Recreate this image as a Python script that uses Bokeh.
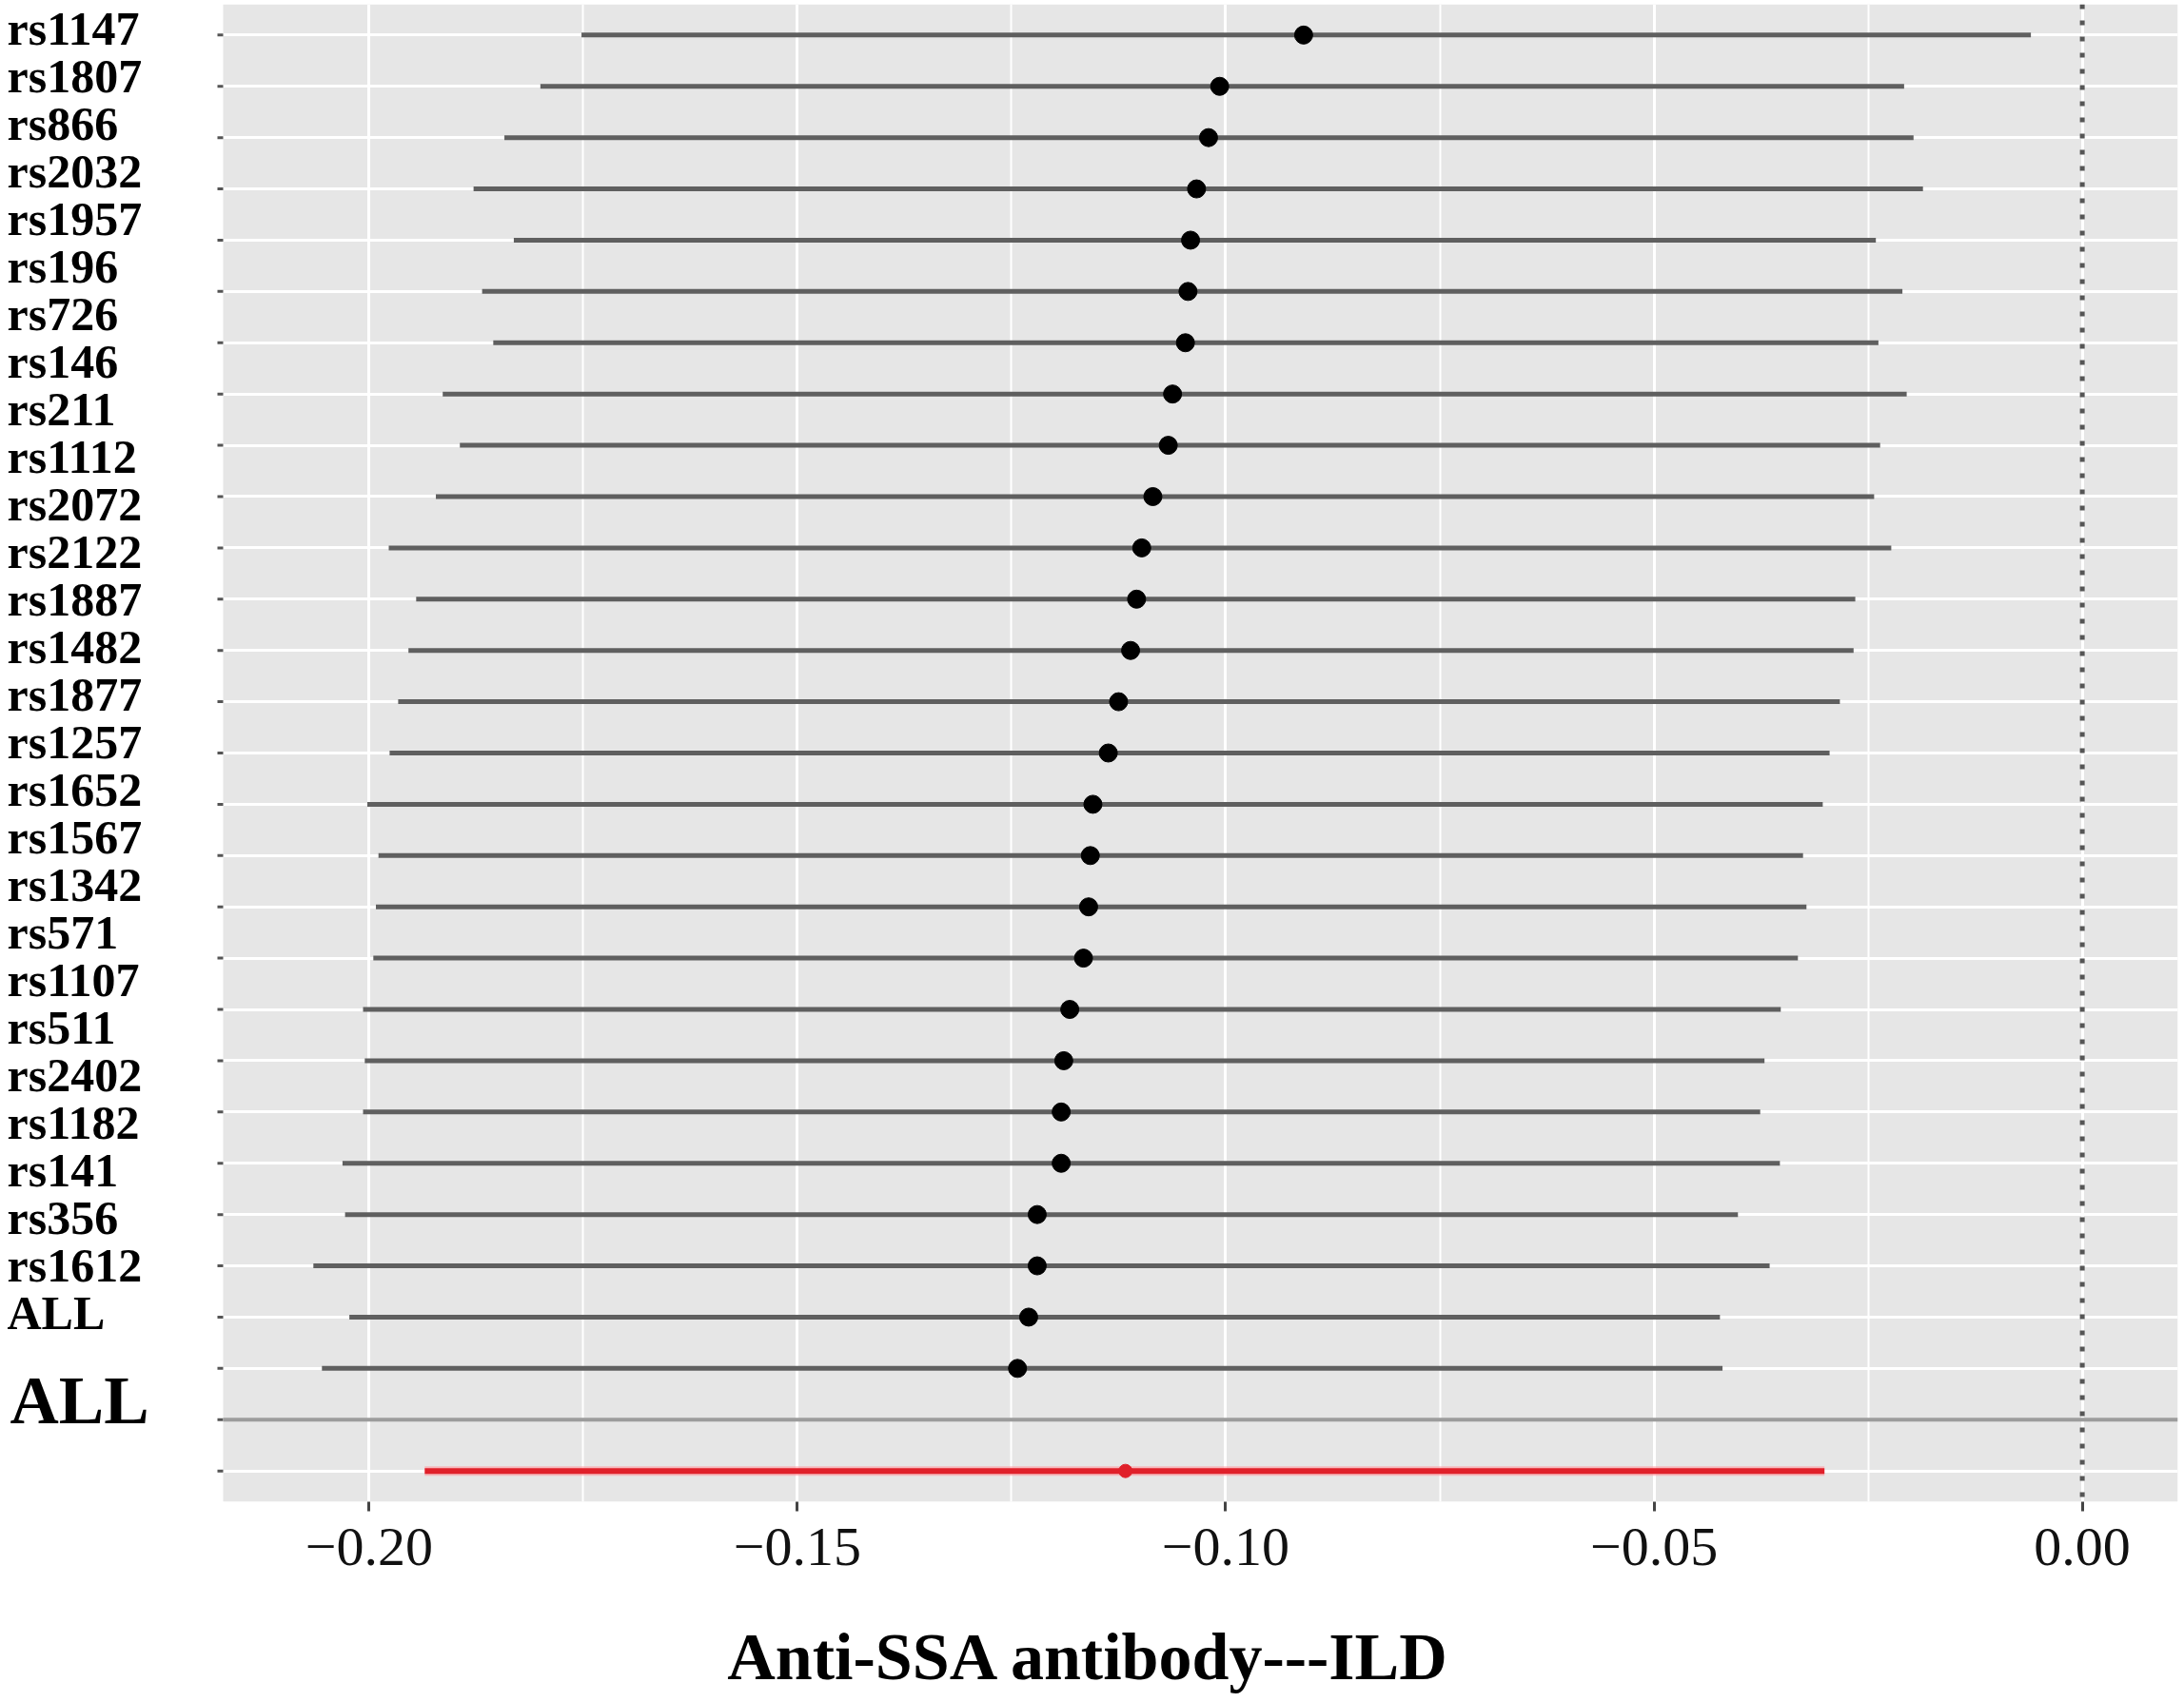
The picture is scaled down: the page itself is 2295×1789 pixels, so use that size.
import numpy as np
from bokeh.plotting import figure
from bokeh.models import (Range1d, FixedTicker, CustomJSTickFormatter, Span,
                          ColumnDataSource)
from bokeh.core.properties import value
from bokeh.embed import file_html
from bokeh.resources import INLINE

# ---------------- data ----------------
snp_labels = ["rs1147", "rs1807", "rs866", "rs2032", "rs1957", "rs196", "rs726",
              "rs146", "rs211", "rs1112", "rs2072", "rs2122", "rs1887", "rs1482",
              "rs1877", "rs1257", "rs1652", "rs1567", "rs1342", "rs571", "rs1107",
              "rs511", "rs2402", "rs1182", "rs141", "rs356", "rs1612", "ALL"]
est = [-0.0909, -0.1007, -0.1020, -0.1034, -0.1041, -0.1044, -0.1047, -0.1062,
       -0.1067, -0.1085, -0.1098, -0.1104, -0.1111, -0.1125, -0.1137, -0.1155,
       -0.1158, -0.1160, -0.1166, -0.1182, -0.1189, -0.1192, -0.1192, -0.1220,
       -0.1220, -0.1230, -0.1243]
lower = [-0.1752, -0.1800, -0.1842, -0.1878, -0.1831, -0.1868, -0.1855, -0.1914,
         -0.1894, -0.1922, -0.1977, -0.1945, -0.1954, -0.1966, -0.1976, -0.2002,
         -0.1989, -0.1992, -0.1995, -0.2007, -0.2005, -0.2007, -0.2031, -0.2028,
         -0.2065, -0.2023, -0.2055]
upper = [-0.0060, -0.0208, -0.0197, -0.0186, -0.0241, -0.0210, -0.0238, -0.0205,
         -0.0236, -0.0243, -0.0223, -0.0265, -0.0267, -0.0283, -0.0295, -0.0303,
         -0.0326, -0.0322, -0.0332, -0.0352, -0.0371, -0.0376, -0.0353, -0.0402,
         -0.0365, -0.0423, -0.0420]
pooled_est = [-0.1117]
pooled_lower = [-0.1935]
pooled_upper = [-0.0301]
x_ticks = [-0.20, -0.15, -0.10, -0.05, 0.00]
x_minor = [-0.175, -0.125, -0.075, -0.025]
x_title = "Anti-SSA antibody---ILD"
big_label = ["ALL"]

# ---------------- layout ----------------
W, H = 2295, 1789
FRAME_W = 2288          # frame spans canvas x 0..2288
PANEL_LEFT_PX = 234     # grey panel starts here inside the frame

n_rows = len(est) + 2                      # SNP rows + separator row + pooled row
row_y = [n_rows - i for i in range(len(est))]
sep_row = 2
pooled_row = [1]
all_rows = list(range(1, n_rows + 1))

lo = min(lower + pooled_lower + [0.0])
hi = max(upper + pooled_upper + [0.0])
panel_lo, panel_hi = lo - 0.051 * (hi - lo), hi + 0.054 * (hi - lo)
x_start = panel_lo - PANEL_LEFT_PX / (FRAME_W - PANEL_LEFT_PX) * (panel_hi - panel_lo)

p = figure(width=W, height=H, output_backend="svg", toolbar_location=None,
           x_range=Range1d(x_start, panel_hi),
           y_range=Range1d(0.4, n_rows + 0.6),
           min_border_left=0, min_border_right=W - FRAME_W, min_border_top=4,
           min_border_bottom=211,
           background_fill_color="white", border_fill_color="white",
           outline_line_color=None)

n_lab = len(snp_labels)
p.extra_y_ranges = {"lab": Range1d(-2.98, n_lab + 0.5)}

# grey panel
p.quad(left=[panel_lo], right=[panel_hi], bottom=[0.4], top=[n_rows + 0.6],
       fill_color="#E6E6E6", line_color=None, level="image")

# grids
p.xgrid.ticker = FixedTicker(ticks=x_ticks, minor_ticks=x_minor)
p.xgrid.grid_line_color = "white"
p.xgrid.grid_line_width = 3
p.xgrid.minor_grid_line_color = "white"
p.xgrid.minor_grid_line_width = 2
p.ygrid.ticker = FixedTicker(ticks=all_rows)
p.ygrid.grid_line_color = "white"
p.ygrid.grid_line_width = 3
p.ygrid.bounds = (panel_lo, panel_hi)

# x axis
xa = p.xaxis[0]
xa.ticker = FixedTicker(ticks=x_ticks)
xa.formatter = CustomJSTickFormatter(
    code="return (tick < -1e-9 ? '\u2212' : '') + Math.abs(tick).toFixed(2);")
xa.axis_line_color = None
xa.major_tick_line_color = "#444444"
xa.major_tick_line_width = 3
xa.major_tick_out = 10
xa.major_tick_in = 0
xa.minor_tick_line_color = None
xa.major_label_text_font = "Liberation Serif"
xa.major_label_text_font_size = "58px"
xa.major_label_text_color = "#111111"
xa.major_label_standoff = 18
xa.axis_label = x_title
xa.axis_label_text_font = "Liberation Serif"
xa.axis_label_text_font_style = "bold"
xa.axis_label_text_font_size = "70px"
xa.axis_label_text_color = "black"
xa.axis_label_standoff = 55

p.yaxis.visible = False

# y ticks at the panel's left edge
p.ray(x=[panel_lo] * n_rows, y=all_rows, length=6, length_units="screen",
      angle=np.pi, line_color="#555555", line_width=3)

# reference line at zero
p.add_layout(Span(location=0, dimension="height", line_color="#555555",
                  line_width=5, line_dash="5 12"))
# separator line
p.segment(x0=[panel_lo], y0=[sep_row], x1=[panel_hi], y1=[sep_row],
          line_color="#9C9C9C", line_width=4)

# SNP estimates
src = ColumnDataSource(dict(y=row_y, est=est, lower=lower, upper=upper))
p.segment(x0="lower", y0="y", x1="upper", y1="y", source=src,
          line_color="#5F5F5F", line_width=5)
p.scatter(x="est", y="y", source=src, size=19, color="black")

# pooled estimate
psrc = ColumnDataSource(dict(y=pooled_row, est=pooled_est, lower=pooled_lower,
                             upper=pooled_upper))
p.segment(x0="lower", y0="y", x1="upper", y1="y", source=psrc,
          line_color="#FF9AA0", line_width=10, line_alpha=0.6)
p.segment(x0="lower", y0="y", x1="upper", y1="y", source=psrc,
          line_color="#E0202A", line_width=6)
p.scatter(x="est", y="y", source=psrc, size=14, color="#E0202A")

# row labels (overlay, left-aligned)
lsrc = ColumnDataSource(dict(x=[x_start] * n_lab, y=list(range(n_lab, 0, -1)),
                             text=snp_labels))
p.text(x="x", y="y", text="text", source=lsrc, y_range_name="lab",
       x_offset=7, text_align="left", text_baseline="middle",
       text_font=value("Liberation Serif"), text_font_style="bold",
       text_font_size=value("50px"), text_color="black")
p.text(x=[x_start], y=[-0.84], text=big_label, y_range_name="lab",
       x_offset=10, text_align="left", text_baseline="middle",
       text_font=value("Liberation Serif"), text_font_style="bold",
       text_font_size=value("71px"), text_color="black")

open("out.html", "w").write(file_html(p, INLINE))
